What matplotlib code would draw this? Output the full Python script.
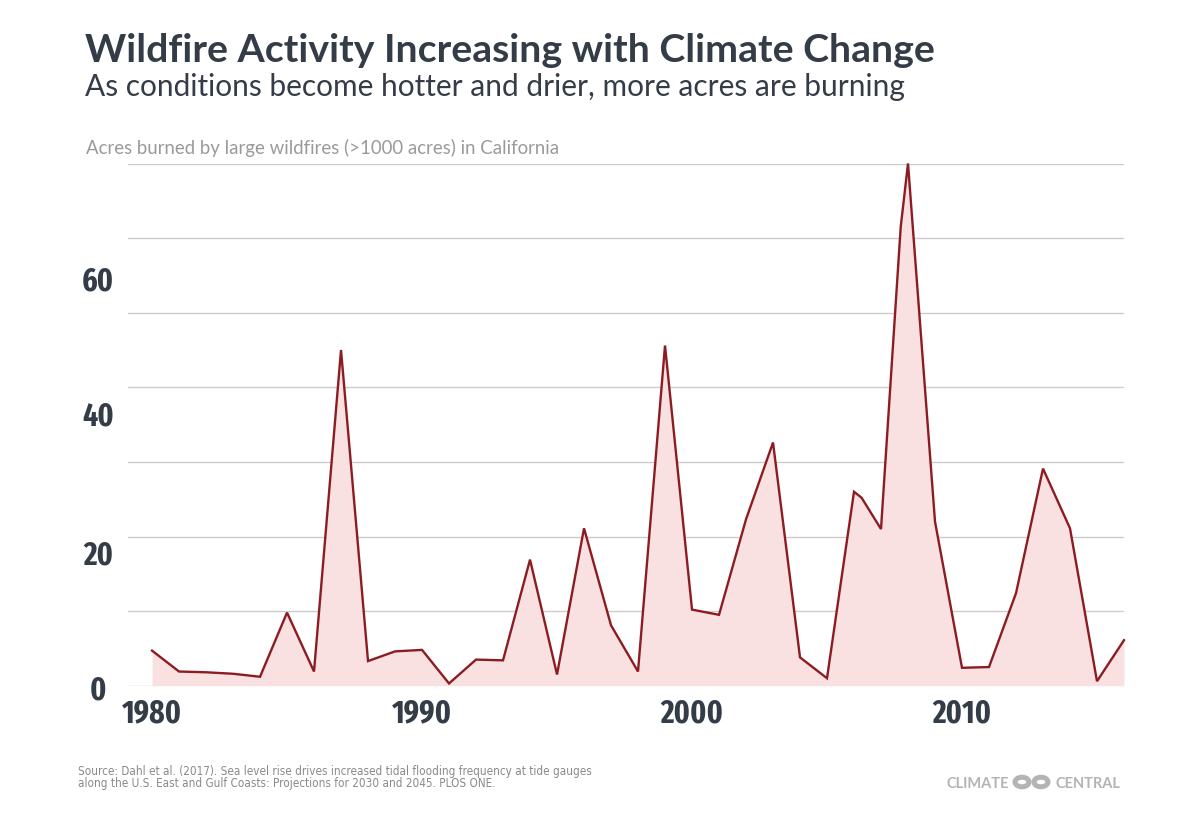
import matplotlib
matplotlib.use("Agg")
import matplotlib.pyplot as plt
from matplotlib.patches import Circle
from matplotlib import font_manager as fm

# ---- data ----
years = [1980, 1981, 1982, 1983, 1984, 1985, 1986, 1987, 1988, 1989,
         1990, 1991, 1992, 1993, 1994, 1995, 1996, 1997, 1998, 1999,
         2000, 2001, 2002, 2003, 2004, 2005, 2006, 2006.28, 2007, 2007.73,
         2008, 2009, 2010, 2011, 2012, 2013, 2014, 2015, 2016]
acres = [4.7, 1.9, 1.8, 1.6, 1.2, 9.8, 1.9, 45.0, 3.3, 4.6,
         4.8, 0.3, 3.5, 3.4, 16.9, 1.5, 21.1, 8.1, 1.9, 45.6,
         10.2, 9.5, 22.3, 32.6, 3.8, 1.0, 26.0, 25.2, 21.0, 61.5,
         70.0, 22.0, 2.4, 2.5, 12.4, 29.1, 21.1, 0.6, 6.1]
grid_values = [0, 10, 20, 30, 40, 50, 60, 70]
ytick_pos = [0, 18.1, 36.7, 54.8]
ytick_labels = ["0", "20", "40", "60"]
xtick_pos = [1980, 1990, 2000, 2010]
xtick_labels = ["1980", "1990", "2000", "2010"]

title = "Wildfire Activity Increasing with Climate Change"
subtitle = "As conditions become hotter and drier, more acres are burning"
axis_note = "Acres burned by large wildfires (>1000 acres) in California"
source_lines = ["Source: Dahl et al. (2017). Sea level rise drives increased tidal flooding frequency at tide gauges",
                "along the U.S. East and Gulf Coasts: Projections for 2030 and 2045. PLOS ONE."]

DARK = "#343d47"
LINE = "#8c1c22"
FILL = "#f9e1e2"
GRID = "#cccccc"


def find_narrow_bold():
    names = [(f.fname, f.fname.split("/")[-1].lower()) for f in fm.fontManager.ttflist]
    tests = [
        lambda n: "extracondensed" in n and n.endswith("bold.ttf") and "extra" in n,
        lambda n: "condensed" in n and "bold" in n and "dejavu" not in n and "italic" not in n
                  and "semi" not in n and "extra" not in n,
        lambda n: "narrow" in n and "bold" in n and "italic" not in n,
    ]
    for t in tests:
        for path, n in names:
            if t(n):
                return path
    return None


narrow_file = find_narrow_bold()
if narrow_file:
    tick_fp = fm.FontProperties(fname=narrow_file, size=23)
else:
    tick_fp = fm.FontProperties(family="DejaVu Sans", stretch="condensed", weight="bold", size=20)

fig = plt.figure(figsize=(12, 8.2), dpi=100)
fig.patch.set_facecolor("white")

W, H = 1200, 820
ax = fig.add_axes([128 / W, 1 - 686.7 / H, (1124 - 128) / W, (686.7 - 164.5) / H])
ax.set_xlim(1979.11, 2016)
ax.set_ylim(0, 70)

for g in grid_values:
    ax.axhline(g, color=GRID, lw=1.0, zorder=1)

ax.fill_between(years, acres, 0, color=FILL, zorder=2, lw=0)
ax.plot(years, acres, color=LINE, lw=1.7, zorder=3, clip_on=False, solid_joinstyle="miter")

for s in ax.spines.values():
    s.set_visible(False)

ax.set_yticks(ytick_pos)
ax.set_yticklabels(ytick_labels, fontproperties=tick_fp, color=DARK, ha="center")
ax.tick_params(axis="y", length=0, pad=21.5)
ax.set_xticks(xtick_pos)
ax.set_xticklabels(xtick_labels, fontproperties=tick_fp, color=DARK)
ax.tick_params(axis="x", length=0, pad=8)

fig.text(85 / W, 1 - 62 / H, title, fontfamily="Lato", fontweight="bold",
         fontsize=28.3, color=DARK, va="baseline", ha="left")
fig.text(85 / W, 1 - 96 / H, subtitle, fontfamily="Lato", fontsize=21.5,
         color=DARK, va="baseline", ha="left")
fig.text(86 / W, 1 - 154 / H, axis_note, fontfamily="Lato", fontsize=13.4,
         color="#9a9a9a", va="baseline", ha="left")

fig.text(78 / W, 1 - 775 / H, source_lines[0], family="DejaVu Sans", stretch="condensed",
         fontsize=8.4, color="#8a8a8a", va="baseline", ha="left")
fig.text(78 / W, 1 - 787 / H, source_lines[1], family="DejaVu Sans", stretch="condensed",
         fontsize=8.4, color="#8a8a8a", va="baseline", ha="left")

LOGO = "#b4b4b4"
fig.text(1009 / W, 1 - 788 / H, "CLIMATE", fontfamily="Lato", fontweight="bold",
         fontsize=10.5, color=LOGO, va="baseline", ha="right")
fig.text(1055 / W, 1 - 788 / H, "CENTRAL", fontfamily="Lato", fontweight="bold",
         fontsize=10.5, color=LOGO, va="baseline", ha="left")
r = 7.0
for cx in (1022, 1041):
    fig.add_artist(Circle((cx / W, 1 - 783 / H), radius=r / W, transform=fig.transFigure,
                          facecolor="none", edgecolor=LOGO, lw=3.6))

fig.savefig("out.png", dpi=100, facecolor="white")
